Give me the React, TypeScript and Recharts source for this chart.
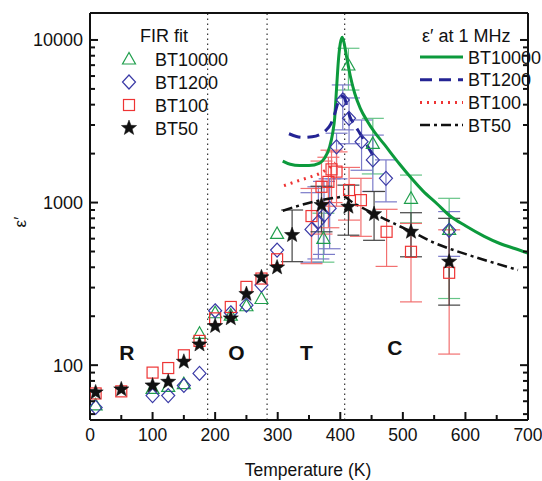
import { ComposedChart, Scatter, Line, XAxis, YAxis, ErrorBar, ReferenceLine, ReferenceDot } from "recharts";

// [T (K), eps', errLow?, errHigh?]
type Pt = number[];

const bt10000Fir: Pt[] = [
  [9, 57], [100, 72], [125, 74], [150, 77], [175, 157], [200, 210], [225, 203], [250, 232],
  [274, 257], [299, 646], [373, 603, 430, 860], [413, 7017, 4920, 8890], [452, 2312, 1500, 3296],
  [513, 1062, 750, 1476], [574, 684, 257, 1062],
];
const bt1200Fir: Pt[] = [
  [9, 55], [100, 65], [125, 65], [150, 75], [175, 89], [200, 216], [225, 210], [250, 234],
  [274, 311], [299, 510], [354, 684, 430, 1150], [365, 762, 450, 1250], [374, 838, 480, 1350],
  [383, 920, 520, 1400], [394, 2203, 1400, 2670], [404, 4274, 2800, 5290], [414, 3296, 2300, 4400],
  [434, 2367, 1580, 3220], [452, 1830, 1170, 2600], [473, 1409, 1010, 1830], [574, 675, 467, 880],
];
const bt100Fir: Pt[] = [
  [9, 67], [50, 69], [100, 90], [125, 96], [150, 115], [175, 141], [200, 194], [225, 228],
  [250, 303], [274, 341], [299, 448], [354, 826, 421, 1221], [370, 1250, 640, 1800],
  [381, 1340, 700, 1900], [386, 1600, 1000, 2100], [394, 1550, 950, 2050], [414, 1194, 780, 1645],
  [433, 1035, 620, 1410], [474, 661, 405, 909], [513, 498, 245, 744], [574, 370, 117, 680],
];
const bt50Fir: Pt[] = [
  [9, 68], [50, 71], [100, 75], [125, 79], [150, 105], [175, 134], [200, 174], [225, 194],
  [250, 274], [274, 347], [299, 399], [323, 631, 433, 900], [370, 966, 661, 1260],
  [413, 942, 630, 1280], [454, 849, 586, 1170], [513, 661, 464, 866], [574, 433, 234, 800],
];

// eps' at 1 MHz
const bt10000Mhz: [number, number][] = [
  [308, 1800], [320, 1720], [335, 1690], [350, 1690], [367, 1750], [375, 1880], [383, 2200],
  [388, 2700], [391, 3300], [394, 5000], [397, 7500], [400, 9500], [403, 10400], [406, 9600],
  [410, 7900], [416, 6000], [423, 4700], [432, 3800], [442, 3220], [455, 2700], [469, 2310],
  [495, 1720], [511, 1450], [532, 1180], [555, 980], [575, 830], [600, 720], [630, 620],
  [655, 560], [680, 520], [700, 488],
];
const bt1200Mhz: [number, number][] = [
  [318, 2650], [330, 2550], [341, 2520], [355, 2540], [367, 2620], [377, 2780], [385, 3050],
  [391, 3500], [397, 4200], [402, 4500], [406, 4450], [410, 4000], [415, 3400], [423, 3000],
  [431, 2680], [440, 2350], [448, 2080], [458, 1800],
];
const bt100Mhz: [number, number][] = [
  [310, 1270], [325, 1330], [340, 1390], [355, 1450], [370, 1530], [383, 1650], [392, 1760],
];
const bt50Mhz: [number, number][] = [
  [308, 890], [335, 960], [367, 1030], [395, 1075], [405, 1085], [420, 1000], [442, 900],
  [470, 795], [495, 715], [520, 645], [548, 570], [575, 520], [602, 480], [640, 432], [684, 385],
];

const phaseBounds = [188, 283, 407];
const phaseLabels: [string, number, number][] = [["R", 59, 120], ["O", 234, 120], ["T", 346, 120], ["C", 487, 129]];

const xTicks = [0, 50, 100, 150, 200, 250, 300, 350, 400, 450, 500, 550, 600, 650, 700];
const yTicks = [50, 60, 70, 80, 90, 100, 200, 300, 400, 500, 600, 700, 800, 900, 1000,
  2000, 3000, 4000, 5000, 6000, 7000, 8000, 9000, 10000];
const yMajor = [100, 1000, 10000];

const font = "'Liberation Sans', Arial, sans-serif";
const ink = "#111";

const toPts = (pts: Pt[]) =>
  pts.map(([x, y, lo, hi]) => ({ x, y, err: lo === undefined ? undefined : [y - lo, hi - y] }));
const toLine = (pts: [number, number][]) => pts.map(([x, y]) => ({ x, y }));

const Tri = ({ cx, cy, c }: any) => (
  <polygon points={`${cx},${cy - 6.5} ${cx - 6.5},${cy + 5} ${cx + 6.5},${cy + 5}`} fill="none" stroke={c} strokeWidth={1.2} />
);
const Dia = ({ cx, cy, c }: any) => (
  <polygon points={`${cx},${cy - 7} ${cx + 6.5},${cy} ${cx},${cy + 7} ${cx - 6.5},${cy}`} fill="none" stroke={c} strokeWidth={1.2} />
);
const Sq = ({ cx, cy, c }: any) => (
  <rect x={cx - 5.5} y={cy - 5.5} width={11} height={11} fill="none" stroke={c} strokeWidth={1.2} />
);
const Star = ({ cx, cy, c, R = 8 }: any) => {
  const pts: string[] = [];
  for (let i = 0; i < 10; i++) {
    const r = i % 2 === 0 ? R : R * 0.42;
    const a = -Math.PI / 2 + (i * Math.PI) / 5;
    pts.push(`${cx + r * Math.cos(a)},${cy + r * Math.sin(a)}`);
  }
  return <polygon points={pts.join(" ")} fill={c} stroke={c} strokeWidth={0.5} />;
};

const LeftTick = ({ x, y, payload }: any) => {
  const major = yMajor.includes(payload.value);
  return (
    <g>
      <line x1={x} x2={x + (major ? 8 : 5)} y1={y} y2={y} stroke={ink} strokeWidth={2} />
      {major && (
        <text x={x - 7} y={y + 6.5} textAnchor="end" fontSize={18} fontFamily={font} fill={ink}>
          {payload.value}
        </text>
      )}
    </g>
  );
};
const RightTick = ({ x, y, payload }: any) => {
  const major = yMajor.includes(payload.value);
  return <line x1={x} x2={x - (major ? 8 : 5)} y1={y} y2={y} stroke={ink} strokeWidth={2} />;
};
const BottomTick = ({ x, y, payload }: any) => {
  const major = payload.value % 100 === 0;
  return (
    <g>
      <line x1={x} x2={x} y1={y} y2={y - (major ? 8 : 5)} stroke={ink} strokeWidth={2} />
      {major && (
        <text x={x} y={y + 21} textAnchor="middle" fontSize={17.5} fontFamily={font} fill={ink}>
          {payload.value}
        </text>
      )}
    </g>
  );
};
const TopTick = ({ x, y, payload }: any) => {
  const major = payload.value % 100 === 0;
  return <line x1={x} x2={x} y1={y} y2={y + (major ? 8 : 5)} stroke={ink} strokeWidth={2} />;
};

const C = {
  green: "#1f9e4c", greenLine: "#0c9a3c", greenErr: "#66c487",
  blue: "#3a3aa6", blueLine: "#242494", blueErr: "#7b7bc9",
  red: "#ee3434", redErr: "#f27070",
  black: ink, blackErr: "#444",
};

const firLegend = [
  { name: "BT10000", shape: Tri, c: C.green },
  { name: "BT1200", shape: Dia, c: C.blue },
  { name: "BT100", shape: Sq, c: C.red },
  { name: "BT50", shape: Star, c: C.black },
];
const mhzLegend = [
  { name: "BT10000", c: C.greenLine, dash: undefined, w: 3 },
  { name: "BT1200", c: C.blueLine, dash: "12 7", w: 3 },
  { name: "BT100", c: C.red, dash: "2 5", w: 3 },
  { name: "BT50", c: C.black, dash: "10 4 3 4", w: 2.5 },
];

export default function App() {
  const axisLine = { stroke: ink, strokeWidth: 2 };
  return (
    <div style={{ position: "absolute", left: 0, top: 0, width: 542, height: 481, background: "#fff" }}>
      <ComposedChart width={542} height={481} margin={{ top: 12, right: 13, bottom: 60, left: 89 }}>
        <XAxis dataKey="x" type="number" domain={[0, 700]} ticks={xTicks} interval={0} height={1}
          tickSize={0} tickMargin={0} tickLine={false} axisLine={axisLine} tick={(p: any) => <BottomTick {...p} />}
          allowDataOverflow />
        <XAxis xAxisId="top" orientation="top" type="number" domain={[0, 700]} ticks={xTicks} interval={0}
          height={1} tickSize={0} tickMargin={0} tickLine={false} axisLine={axisLine}
          tick={(p: any) => <TopTick {...p} />} allowDataOverflow />
        <YAxis dataKey="y" type="number" scale="log" domain={[46, 14650]} ticks={yTicks} interval={0} width={1}
          tickSize={0} tickMargin={0} tickLine={false} axisLine={axisLine} tick={(p: any) => <LeftTick {...p} />}
          allowDataOverflow />
        <YAxis yAxisId="right" orientation="right" type="number" scale="log" domain={[46, 14650]} ticks={yTicks}
          interval={0} width={1} tickSize={0} tickMargin={0} tickLine={false} axisLine={axisLine}
          tick={(p: any) => <RightTick {...p} />} allowDataOverflow />

        {phaseBounds.map((t) => (
          <ReferenceLine key={t} x={t} stroke="#333" strokeWidth={1.2} strokeDasharray="1.5 3.5" />
        ))}
        {phaseLabels.map(([s, t, e]) => (
          <ReferenceDot key={s} x={t} y={e} r={0} stroke="none" fill="none"
            label={{ value: s, position: "center", fontSize: 21, fontWeight: "bold", fill: ink, fontFamily: font }} />
        ))}

        <Scatter data={toPts(bt10000Fir)} isAnimationActive={false} shape={(p: any) => <Tri cx={p.cx} cy={p.cy} c={C.green} />}>
          <ErrorBar dataKey="err" direction="y" width={11} stroke={C.greenErr} strokeWidth={1.2} />
        </Scatter>
        <Scatter data={toPts(bt1200Fir)} isAnimationActive={false} shape={(p: any) => <Dia cx={p.cx} cy={p.cy} c={C.blue} />}>
          <ErrorBar dataKey="err" direction="y" width={11} stroke={C.blueErr} strokeWidth={1.2} />
        </Scatter>
        <Scatter data={toPts(bt100Fir)} isAnimationActive={false} shape={(p: any) => <Sq cx={p.cx} cy={p.cy} c={C.red} />}>
          <ErrorBar dataKey="err" direction="y" width={11} stroke={C.redErr} strokeWidth={1.2} />
        </Scatter>
        <Scatter data={toPts(bt50Fir)} isAnimationActive={false} shape={(p: any) => <Star cx={p.cx} cy={p.cy} c={C.black} />}>
          <ErrorBar dataKey="err" direction="y" width={11} stroke={C.blackErr} strokeWidth={1.2} />
        </Scatter>

        <Line data={toLine(bt10000Mhz)} dataKey="y" type="monotone" dot={false} activeDot={false}
          stroke={C.greenLine} strokeWidth={3} isAnimationActive={false} />
        <Line data={toLine(bt1200Mhz)} dataKey="y" type="monotone" dot={false} activeDot={false}
          stroke={C.blueLine} strokeWidth={3} strokeDasharray="12 7" isAnimationActive={false} />
        <Line data={toLine(bt100Mhz)} dataKey="y" type="monotone" dot={false} activeDot={false}
          stroke={C.red} strokeWidth={3} strokeDasharray="2 5" isAnimationActive={false} />
        <Line data={toLine(bt50Mhz)} dataKey="y" type="monotone" dot={false} activeDot={false}
          stroke={C.black} strokeWidth={2.5} strokeDasharray="10 4 3 4" isAnimationActive={false} />
      </ComposedChart>

      <svg width={542} height={481} style={{ position: "absolute", left: 0, top: 0, pointerEvents: "none" }}
        fontFamily={font} fill={ink}>
        <text x={140} y={41.5} fontSize={18}>FIR fit</text>
        {firLegend.map((it, i) => {
          const cy = 59 + i * 23;
          const S = it.shape;
          return (
            <g key={it.name}>
              <S cx={129} cy={cy} c={it.c} />
              <text x={155} y={cy + 6.5} fontSize={18}>{it.name}</text>
            </g>
          );
        })}
        <text x={422} y={41.5} fontSize={18}>ε′ at 1 MHz</text>
        {mhzLegend.map((it, i) => {
          const cy = 57 + i * 22.7;
          return (
            <g key={it.name}>
              <line x1={420} x2={463} y1={cy} y2={cy} stroke={it.c} strokeWidth={it.w} strokeDasharray={it.dash} />
              <text x={468} y={cy + 6.5} fontSize={18}>{it.name}</text>
            </g>
          );
        })}
        <text x={308} y={476} fontSize={17.5} textAnchor="middle">Temperature (K)</text>
        <text x={0} y={0} fontSize={17} textAnchor="middle" transform="translate(26 222) rotate(-90)">ε′</text>
      </svg>
    </div>
  );
}
